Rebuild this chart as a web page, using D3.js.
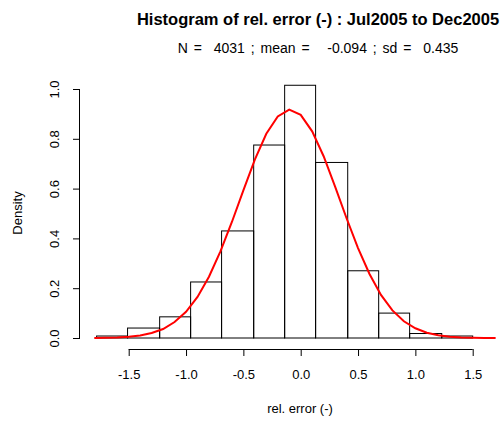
<!DOCTYPE html>
<meta charset="utf-8">
<script src="https://d3js.org/d3.v7.min.js"></script>
<body style="margin:0;background:#fff;">
<svg id="chart" width="504" height="423"></svg>
</body>
<script>
// histogram bin edges and densities
var binEdges = [-1.78, -1.51, -1.23, -0.96, -0.69, -0.41, -0.14, 0.13, 0.41, 0.68, 0.95, 1.23, 1.50];
var densities = [0.008, 0.04, 0.085, 0.225, 0.43, 0.775, 1.015, 0.705, 0.27, 0.1, 0.018, 0.008];
// fitted normal curve
var curveX = [-1.8,-1.7,-1.6,-1.5,-1.4,-1.3,-1.2,-1.1,-1.0,-0.9,-0.8,-0.7,-0.6,-0.5,-0.4,-0.3,-0.2,-0.1,0.0,0.1,0.2,0.3,0.4,0.5,0.6,0.7,0.8,0.9,1.0,1.1,1.2,1.3,1.4,1.5,1.6,1.7];
var curveY = [0.0004,0.001,0.0023,0.005,0.010,0.020,0.036,0.064,0.105,0.165,0.246,0.348,0.466,0.593,0.716,0.820,0.890,0.917,0.896,0.830,0.730,0.608,0.481,0.361,0.257,0.173,0.111,0.067,0.039,0.021,0.011,0.0054,0.0025,0.0011,0.0005,0.0002];
var xTicks = [-1.5, -1.0, -0.5, 0.0, 0.5, 1.0, 1.5];
var yTicks = [0.0, 0.2, 0.4, 0.6, 0.8, 1.0];

var svg = d3.select("#chart");
var font = "Liberation Sans, Arial, sans-serif";
var fmt = function(d) { return d3.format(".1f")(d).replace("\u2212", "-"); };

var x = d3.scaleLinear().domain([0, 1.5]).range([300.7, 472.7]);
var y = d3.scaleLinear().domain([0, 1]).range([338, 89]);

svg.append("g").selectAll("rect")
  .data(densities)
  .join("rect")
    .attr("x", function(d, i) { return x(binEdges[i]); })
    .attr("y", function(d) { return y(d); })
    .attr("width", function(d, i) { return x(binEdges[i + 1]) - x(binEdges[i]); })
    .attr("height", function(d) { return y(0) - y(d); })
    .attr("fill", "none")
    .attr("stroke", "#000")
    .attr("stroke-width", 1);

svg.append("path")
  .datum(d3.zip(curveX, curveY))
  .attr("fill", "none")
  .attr("stroke", "#ff0000")
  .attr("stroke-width", 2)
  .attr("d", d3.line().x(function(d) { return x(d[0]); }).y(function(d) { return y(d[1]); }));

var xAxis = svg.append("g")
  .attr("transform", "translate(0,349)")
  .call(d3.axisBottom(x).tickValues(xTicks).tickSize(7).tickPadding(14).tickFormat(fmt));
var yAxis = svg.append("g")
  .attr("transform", "translate(80,0)")
  .call(d3.axisLeft(y).tickValues(yTicks).tickSize(7).tickFormat(fmt));
xAxis.select(".domain").attr("d", "M" + x(-1.5) + ",0.5H" + x(1.5));
yAxis.select(".domain").attr("d", "M-0.5," + y(0) + "V" + y(1));
[xAxis, yAxis].forEach(function(a) {
  a.selectAll("text").style("font-family", font).style("font-size", "13px").attr("fill", "#000");
  a.selectAll("line").attr("stroke", "#000");
});
yAxis.selectAll(".tick text").attr("text-anchor", "middle")
  .attr("transform", "rotate(-90)").attr("x", 0).attr("y", -26).attr("dy", "0.35em");

svg.append("text").attr("x", 318).attr("y", 25).attr("text-anchor", "middle")
  .style("font-family", font).style("font-weight", "bold").style("font-size", "16.5px")
  .text("Histogram of rel. error (-) : Jul2005 to Dec2005");
svg.append("text").attr("x", 318).attr("y", 53).attr("text-anchor", "middle")
  .style("font-family", font).style("font-size", "14px").style("white-space", "pre")
  .style("word-spacing", "2px")
  .text("N =  4031 ; mean =   -0.094 ; sd =  0.435");
svg.append("text").attr("x", 300).attr("y", 413).attr("text-anchor", "middle")
  .style("font-family", font).style("font-size", "13px")
  .text("rel. error (-)");
svg.append("text").attr("transform", "translate(22,213) rotate(-90)").attr("text-anchor", "middle")
  .style("font-family", font).style("font-size", "13px")
  .text("Density");
</script>
